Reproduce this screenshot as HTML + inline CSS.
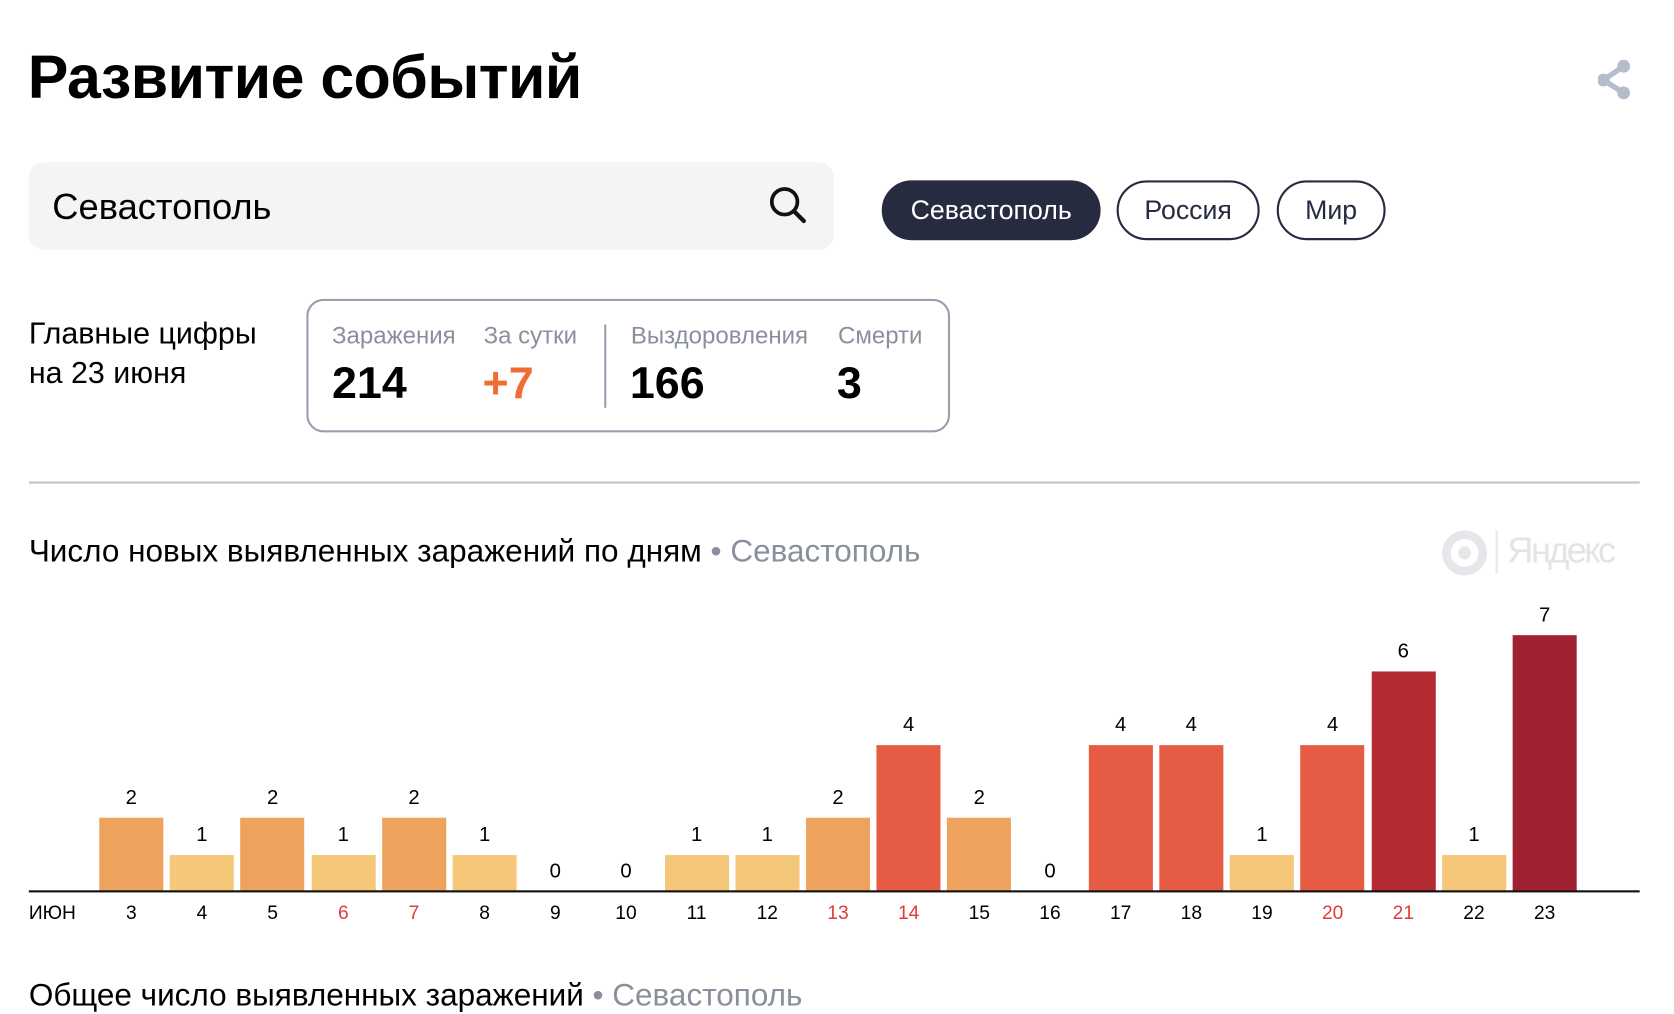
<!DOCTYPE html>
<html><head><meta charset="utf-8"><style>
html,body{margin:0;padding:0;background:#fff;overflow:hidden;width:1674px;height:992px}
#w{position:absolute;left:0;top:0;width:1568px;height:930px;transform:scale(1.0675);transform-origin:0 0;font-family:"Liberation Sans","DejaVu Sans",sans-serif;color:#000}
.a{position:absolute;white-space:nowrap}
.pill{position:absolute;box-sizing:border-box;border-radius:28px;border:2px solid #272b40;font-size:25px;display:flex;align-items:center;justify-content:center}
.lbl{position:absolute;font-size:22.5px;color:#8a8f9e;top:302px}
.val{position:absolute;font-size:42px;font-weight:bold;top:334px}
.bar{position:absolute;width:60px}
.bl{position:absolute;width:60px;text-align:center;font-size:19px}
.xl{position:absolute;width:60px;text-align:center;font-size:18px;top:845px}
</style></head><body><div id="w">
<div class="a" style="left:26px;top:40px;font-size:57px;font-weight:bold;letter-spacing:-0.5px">Развитие событий</div>
<svg class="a" style="left:1497px;top:55px" width="40" height="40"><line x1="5" y1="20" x2="24" y2="7" stroke="#b5bccb" stroke-width="5"/><line x1="5" y1="20" x2="24" y2="32" stroke="#b5bccb" stroke-width="5"/><circle cx="5" cy="20" r="6" fill="#b5bccb"/><circle cx="24" cy="7" r="6" fill="#b5bccb"/><circle cx="24" cy="32" r="6" fill="#b5bccb"/></svg>
<div class="a" style="left:27px;top:152px;width:754px;height:82px;background:#f4f4f4;border-radius:14px"></div>
<div class="a" style="left:49px;top:175px;font-size:34px">Севастополь</div>
<svg class="a" style="left:719px;top:173px" width="40" height="40"><circle cx="16" cy="16" r="12" fill="none" stroke="#111" stroke-width="3.5"/><line x1="25" y1="25" x2="34" y2="34" stroke="#111" stroke-width="4" stroke-linecap="round"/></svg>
<div class="pill" style="left:826px;top:169px;width:205px;height:56px;background:#272b40;color:#fff">Севастополь</div>
<div class="pill" style="left:1046px;top:169px;width:134px;height:56px;color:#272b40">Россия</div>
<div class="pill" style="left:1196px;top:169px;width:102px;height:56px;color:#272b40">Мир</div>
<div class="a" style="left:27px;top:295px;font-size:28.5px;line-height:37px">Главные цифры<br>на 23 июня</div>
<div class="a" style="left:287px;top:280px;width:603px;height:125px;box-sizing:border-box;border:2px solid #9a9fad;border-radius:16px"></div>
<div class="a" style="left:566px;top:304px;width:2px;height:78px;background:#9a9fad"></div>
<div class="lbl" style="left:311px">Заражения</div><div class="lbl" style="left:453px">За сутки</div><div class="lbl" style="left:591px">Выздоровления</div><div class="lbl" style="left:785px">Смерти</div>
<div class="val" style="left:311px;top:335px">214</div><div class="val" style="left:452px;top:335px;color:#ef6c35">+7</div><div class="val" style="left:590px;top:335px">166</div><div class="val" style="left:784px;top:335px">3</div>
<div class="a" style="left:27px;top:451px;width:1509px;height:2px;background:#c0c3cd"></div>
<div class="a" style="left:27px;top:500px;font-size:29.5px">Число новых выявленных заражений по дням <span style="color:#8a8f9e">•&nbsp;Севастополь</span></div>
<svg class="a" style="left:1350px;top:496px" width="44" height="44"><circle cx="22" cy="22" r="17" fill="none" stroke="#e6e7ea" stroke-width="8"/><circle cx="22" cy="22" r="6" fill="#e6e7ea"/></svg>
<div class="a" style="left:1401px;top:497px;width:2px;height:40px;background:#e6e7ea"></div>
<div class="a" style="left:1412px;top:497px;font-size:34px;color:#e3e4e8;letter-spacing:-2.5px">Яндекс</div>
<div id="bars"></div>
<div class="a" style="left:27px;top:834px;width:1509px;height:2px;background:#111"></div>
<div class="a" style="left:27px;top:845px;font-size:18px">ИЮН</div>
<div class="a" style="left:27px;top:916px;font-size:29.5px">Общее число выявленных заражений <span style="color:#8a8f9e">•&nbsp;Севастополь</span></div>
<script>
(function(){
var v=[2,1,2,1,2,1,0,0,1,1,2,4,2,0,4,4,1,4,6,1,7];
var c={1:"#f5c778",2:"#eda35e",4:"#e65b44",6:"#b52b34",7:"#a02232"};
var red=[6,7,13,14,20,21];var h="";
for(var i=0;i<21;i++){var x=93+i*66.2,d=i+3,bh=v[i]*34.3,ty=835-bh;
if(v[i])h+='<div class="bar" style="left:'+x+'px;top:'+ty+'px;height:'+bh+'px;background:'+c[v[i]]+'"></div>';
h+='<div class="bl" style="left:'+x+'px;top:'+(ty-29)+'px">'+v[i]+'</div>';
h+='<div class="xl" style="left:'+x+'px;color:'+(red.indexOf(d)>=0?'#e03b3b':'#000')+'">'+d+'</div>';}
document.getElementById('bars').innerHTML=h;
})();
</script>
</div></body></html>
